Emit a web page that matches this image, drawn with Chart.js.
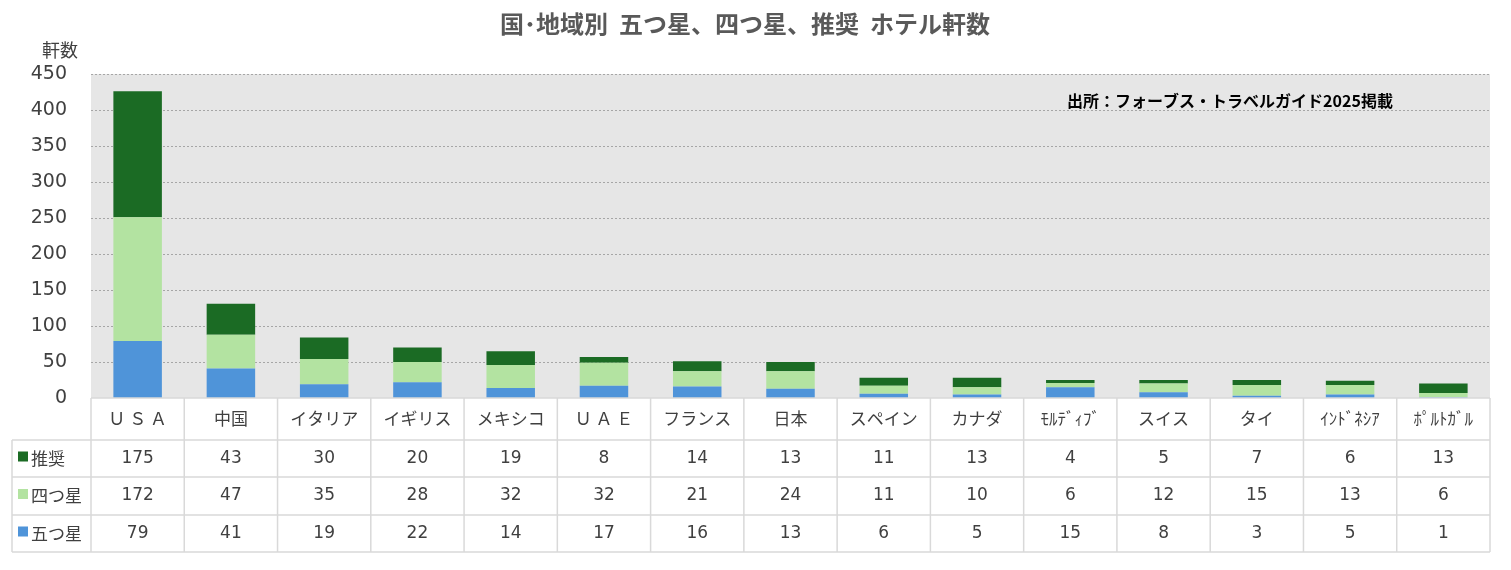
<!DOCTYPE html>
<html><head><meta charset="utf-8">
<script src="https://cdn.jsdelivr.net/npm/chart.js@4/dist/chart.umd.min.js"></script>
<style>html,body{margin:0;padding:0;background:#fff}#w{width:1511px;height:570px}</style>
</head><body><div id="w"><canvas id="c"></canvas></div>
<script>
const categories=["Ｕ Ｓ Ａ","中国","イタリア","イギリス","メキシコ","Ｕ Ａ Ｅ","フランス","日本","スペイン","カナダ","ﾓﾙﾃﾞｨﾌﾞ","スイス","タイ","ｲﾝﾄﾞﾈｼｱ","ﾎﾟﾙﾄｶﾞﾙ"];
const fiveStar=[79,41,19,22,14,17,16,13,6,5,15,8,3,5,1];
const fourStar=[172,47,35,28,32,32,21,24,11,10,6,12,15,13,6];
const recommended=[175,43,30,20,19,8,14,13,11,13,4,5,7,6,13];
const yTicks=[0,50,100,150,200,250,300,350,400,450];
const seriesNames=["推奨","四つ星","五つ星"];
const colors={"推奨":"#1b6b24","四つ星":"#b3e3a1","五つ星":"#4f94d9"};
const JP='"Noto Sans CJK JP","DejaVu Sans",sans-serif';
const NUM='"DejaVu Sans","Noto Sans CJK JP",sans-serif';

const tablePlugin={id:'tbl',
 beforeDatasetsDraw(ch){const a=ch.chartArea,c=ch.ctx,y=ch.scales.y;c.save();c.fillStyle='#e6e6e6';c.fillRect(a.left,a.top,a.right-a.left,a.bottom-a.top);
  c.strokeStyle='#a6a6a6';c.lineWidth=1;c.setLineDash([2,2]);c.beginPath();
  yTicks.forEach(v=>{if(v===0)return;const yy=Math.round(y.getPixelForValue(v))+0.5;c.moveTo(a.left,yy);c.lineTo(a.right,yy);});
  c.stroke();c.restore();},
 afterDraw(ch){
  const c=ch.ctx,a=ch.chartArea,x=ch.scales.x;
  const n=categories.length,cw=(a.right-a.left)/n;
  const rows=[a.bottom,440,477,515,552];
  c.save();
  c.strokeStyle='#d9d9d9';c.lineWidth=1.5;
  c.beginPath();
  c.moveTo(a.left,rows[0]);c.lineTo(a.right,rows[0]);
  for(let i=1;i<rows.length;i++){c.moveTo(12,rows[i]);c.lineTo(a.right,rows[i]);}
  for(let i=0;i<=n;i++){const xx=a.left+i*cw;c.moveTo(xx,rows[0]);c.lineTo(xx,rows[4]);}
  c.moveTo(12,rows[1]);c.lineTo(12,rows[4]);
  c.stroke();
  c.textAlign='center';c.textBaseline='middle';c.fillStyle='#404040';
  categories.forEach((t,i)=>{c.font='17px '+JP;c.fillText(t,x.getPixelForValue(i),(rows[0]+rows[1])/2);});
  const data=[recommended,fourStar,fiveStar];
  data.forEach((arr,r)=>{const cy=(rows[r+1]+rows[r+2])/2;
    c.font='17px '+NUM;c.textAlign='center';c.fillStyle='#404040';
    arr.forEach((v,i)=>c.fillText(String(v),x.getPixelForValue(i),cy));
    c.fillStyle=colors[seriesNames[r]];c.fillRect(18,cy-7,10,10);
    c.fillStyle='#404040';c.textAlign='left';c.font='17px '+JP;c.fillText(seriesNames[r],31,cy);
  });
  c.textAlign='center';c.font='bold 24px '+JP;c.fillStyle='#595959';
  c.fillText('国･地域別  五つ星、四つ星、推奨  ホテル軒数',745,24);
  c.font='18px '+JP;c.fillStyle='#404040';c.fillText('軒数',60,50);
  c.font='bold 16px '+JP;c.fillStyle='#000';c.fillText('出所：フォーブス・トラベルガイド2025掲載',1230,101);
  c.restore();
 }};

new Chart(document.getElementById('c'),{type:'bar',
 data:{labels:categories,datasets:[
  {label:'五つ星',data:fiveStar,backgroundColor:colors['五つ星']},
  {label:'四つ星',data:fourStar,backgroundColor:colors['四つ星']},
  {label:'推奨',data:recommended,backgroundColor:colors['推奨']}]},
 options:{responsive:true,maintainAspectRatio:false,animation:false,devicePixelRatio:1,
  layout:{padding:{top:74,bottom:164,left:0,right:21}},
  plugins:{legend:{display:false},title:{display:false},tooltip:{enabled:false}},
  datasets:{bar:{barPercentage:0.52,categoryPercentage:1}},
  scales:{
   x:{stacked:true,grid:{display:false},border:{display:false},ticks:{display:false}},
   y:{stacked:true,min:0,max:450,afterFit(s){s.width=91;},
      afterBuildTicks(s){s.ticks=yTicks.map(v=>({value:v}));},
      grid:{display:false},border:{display:false},
      ticks:{color:'#404040',font:{size:19,family:NUM},padding:16}}}},
 plugins:[tablePlugin]});
</script></body></html>
